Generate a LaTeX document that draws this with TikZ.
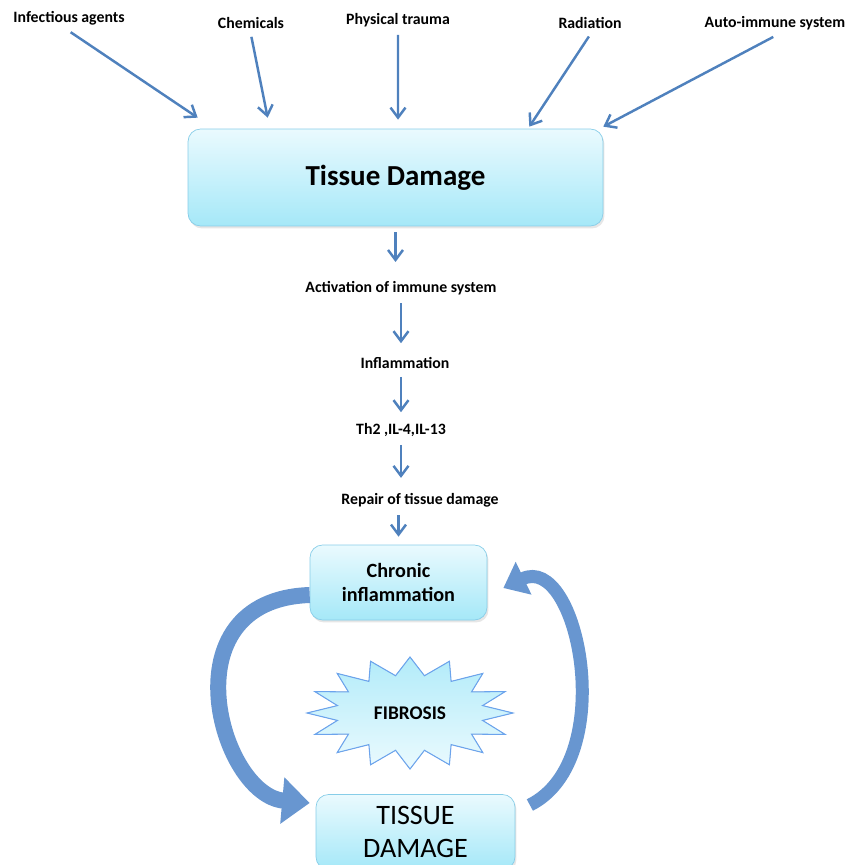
\documentclass[tikz,border=0pt]{standalone}
\usepackage{fontspec}
\setmainfont{Carlito}
\usepackage{tikz}
\usetikzlibrary{positioning,arrows.meta,shadows}
\definecolor{SteelBlue}{RGB}{79,129,189}
\definecolor{LoopBlue}{RGB}{104,150,208}
\definecolor{IceTop}{RGB}{234,250,254}
\definecolor{IceBottom}{RGB}{165,232,248}
\definecolor{IceBorder}{RGB}{135,205,232}

\begin{document}
\begin{tikzpicture}[x=0.02cm,y=-0.02cm,
    every node/.style={font=\fontsize{9}{11}\selectfont\bfseries,align=center,text=black},
    box/.style={draw=IceBorder,top color=IceTop,bottom color=IceBottom,rounded corners=0.25cm,drop shadow={opacity=0.2,shadow xshift=0.03cm,shadow yshift=-0.05cm}},
    flow/.style={-{Straight Barb[length=2mm,width=3mm]},line width=1.4pt,SteelBlue,shorten <=0.04cm},
    cycarrow/.style={-{Triangle[length=0.55cm,width=0.9cm]},line width=0.32cm,LoopBlue}]
    \useasboundingbox (0,0) rectangle (848,865);
    \node (inf) at (69,18) {Infectious agents};
    \node (chem) at (251,23) {Chemicals};
    \node (phys) at (398,20) {Physical trauma};
    \node (rad) at (590,23) {Radiation};
    \node (auto) at (775,23) {Auto-immune system};
    \node[box,minimum width=8.3cm,minimum height=1.94cm,font=\fontsize{16.5}{19}\selectfont\bfseries] (td) at (395.5,177.5) {Tissue Damage};
    \draw[flow] (inf.south) -- ([xshift=0.2cm,yshift=0.22cm]td.north west);
    \draw[flow] (chem.south) -- ([xshift=1.6cm,yshift=0.22cm]td.north west);
    \draw[flow] (phys.south) -- ([xshift=0.05cm,yshift=0.18cm]td.north);
    \draw[flow] (rad.south) -- ([xshift=-1.48cm,yshift=0.04cm]td.north east);
    \draw[flow] (auto.south) -- ([yshift=0.04cm]td.north east);
    % cascade
    \node (act) at (401,288) {Activation of immune system};
    \node (infl) at (405,363) {Inflammation};
    \node (th) at (401,430) {Th2 ,IL-4,IL-13};
    \node (rep) at (420,500) {Repair of tissue damage};
    \node[box,minimum width=3.54cm,minimum height=1.5cm,font=\fontsize{11.5}{14}\selectfont\bfseries] (chron) at (398.5,582.5) {Chronic\\inflammation};
    \draw[flow,shorten <=0.12cm,shorten >=0.26cm] (td.south) -- (td.south |- act.north);
    \draw[flow,shorten >=0.16cm] (act.south) -- (act.south |- infl.north);
    \draw[flow,shorten >=0.1cm] (th.north |- infl.south) -- (th.north);
    \draw[flow,shorten >=0.18cm] (th.south) -- (th.south |- rep.north);
    \draw[flow,shorten >=0.16cm] (chron.north |- rep.south) -- (chron.north);
    % loop
    \node[box,minimum width=3.98cm,minimum height=1.5cm,font=\fontsize{16}{19}\selectfont] (tdam) at (415.5,832) {TISSUE\\DAMAGE};
    \coordinate (burst) at (410,713);
    \begin{scope}[shift={(burst)}]
      \filldraw[draw=IceBorder!80!blue,top color=IceBottom!85!white,bottom color=IceTop,line width=0.6pt] (0:103 and 56)
        \foreach \k [evaluate=\k as \rx using 74+29*(1-isodd(\k)), evaluate=\k as \ry using 38+18*(1-isodd(\k))] in {1,...,31}{ -- ({\k*11.25}:{\rx} and {\ry}) } -- cycle;
    \end{scope}
    \node[font=\fontsize{11}{13}\selectfont\bfseries] (fib) at (burst) {FIBROSIS};
    \draw[cycarrow] ([yshift=-0.25cm]chron.west) .. controls (165,600) and (220,795) .. ([xshift=-0.12cm,yshift=0.58cm]tdam.west);
    \draw[cycarrow,line width=0.26cm,-{Triangle[length=0.45cm,width=0.7cm]}] ([xshift=0.29cm,yshift=0.54cm]tdam.east) .. controls (620,760) and (578,552) .. ([xshift=0.32cm,yshift=-0.11cm]chron.east);
  \end{tikzpicture}
\end{document}
